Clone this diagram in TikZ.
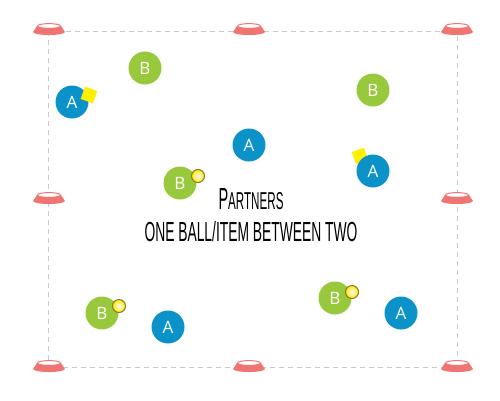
\documentclass[tikz,border=0pt]{standalone}
\usepackage{fontspec}
\usepackage{graphicx}
\setmainfont{Open Sans}
\newfontfamily\labfont{Liberation Sans}
\definecolor{pblue}{HTML}{0B93C9}
\definecolor{pgreen}{HTML}{98C93C}
\definecolor{conered}{HTML}{F07471}
\definecolor{pyellow}{HTML}{FFF000}
\definecolor{ballrim}{HTML}{8A7A1E}
\definecolor{dashgray}{HTML}{C8C8C8}
\tikzset{
  player/.style={circle, minimum size=33pt, inner sep=0pt, text=white, font=\fontsize{17}{17}\selectfont},
  pa/.style={player, fill=pblue},
  pb/.style={player, fill=pgreen},
  ballitem/.style={circle, minimum size=13pt, inner sep=0pt, draw=ballrim, line width=1pt, inner color=white, outer color=pyellow!90!orange},
  bib/.style={fill=pyellow, minimum size=13pt, inner sep=0pt},
  boundary/.style={draw=dashgray, line width=0.8pt, dash pattern=on 5pt off 4pt},
  cone/.pic={
    \fill[conered] (-16,3) arc[start angle=180, end angle=0, x radius=16, y radius=3] -- (12,-3) -- (-12,-3) -- cycle;
    \draw[conered, fill=white, line width=1pt] (0,-3) ellipse[x radius=11.5, y radius=2.4];
  }
}
\begin{document}
\begin{tikzpicture}[x=1pt,y=-1pt]
\useasboundingbox (0,0) rectangle (500,400);
% field
\coordinate (c1) at (48,31);
\coordinate (c2) at (457,31);
\coordinate (c3) at (457,367);
\coordinate (c4) at (48,367);
\draw[boundary] (c1) -- (c2) -- (c3) -- (c4) -- cycle;
% cones
\foreach \x/\y in {49/29, 249/29, 457/29, 49/198, 457/198, 49/366, 249/366, 457/366}
  \pic at (\x,\y) {cone};
% players
\node[pb] (b1) at (145,68) {B};
\node[pa] (a1) at (72,102) {A};
\node[bib, rotate=-20] (y1) at (89,95) {};
\node[pb] (b2) at (373,90) {B};
\node[pa] (a2) at (249,145) {A};
\node[pb] (b3) at (180,183) {B};
\node[ballitem] (ball1) at (198,176) {};
\node[bib, rotate=20] (y2) at (360,156) {};
\node[pa] (a3) at (373,171) {A};
\node[pb] (b4) at (102,313) {B};
\node[ballitem] (ball2) at (119,306) {};
\node[pa] (a4) at (168,327) {A};
\node[pb] (b5) at (335,298) {B};
\node[ballitem] (ball3) at (352,292) {};
\node[pa] (a5) at (401,313) {A};
% labels
\node[inner sep=0pt] (t1) at (251,199) {\resizebox{65pt}{21pt}{\labfont P\fontsize{8}{8}\selectfont ARTNERS}};
\node[inner sep=0pt] (t2) at (251,232) {\resizebox{213pt}{20pt}{\labfont ONE BALL/ITEM BETWEEN TWO}};
\end{tikzpicture}
\end{document}
